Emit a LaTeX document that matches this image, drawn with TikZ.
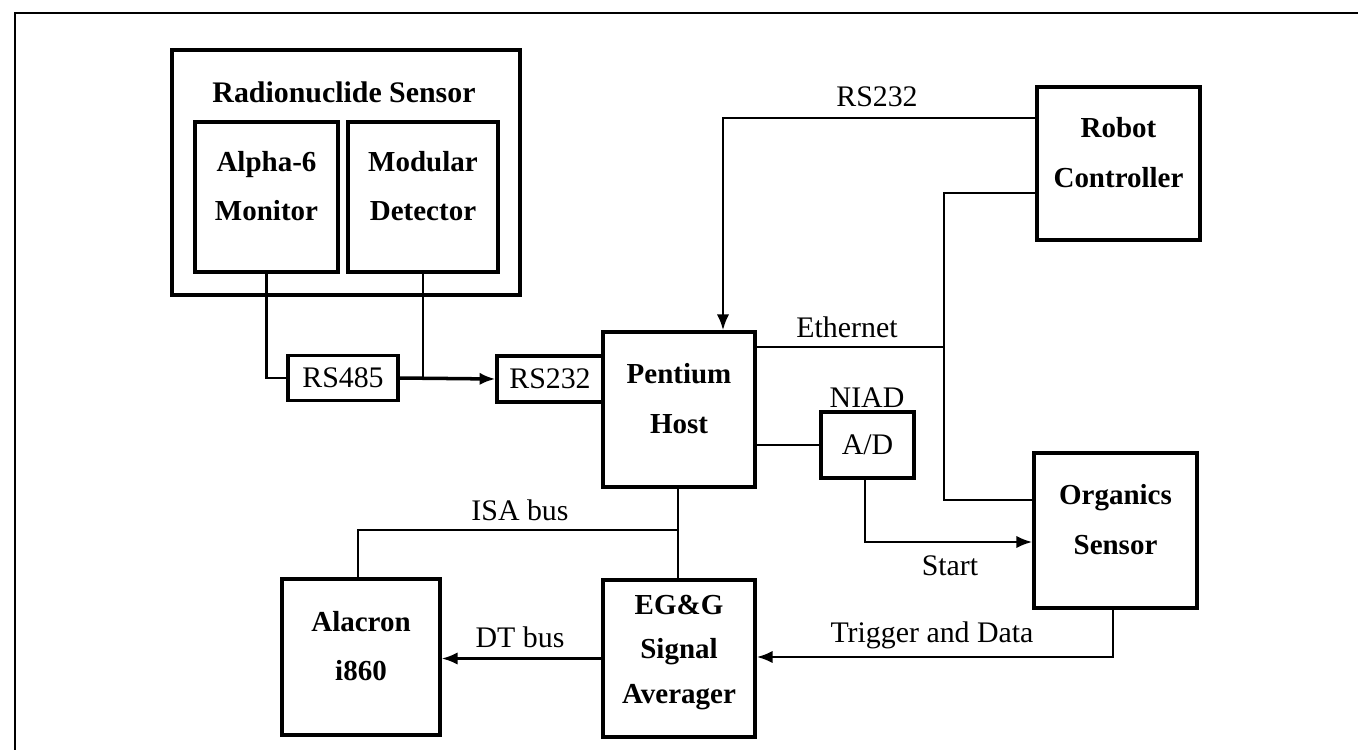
\documentclass[tikz,border=0pt]{standalone}
\usepackage{fontspec}
\setmainfont{Liberation Serif}
\usetikzlibrary{arrows.meta, positioning, calc}

\begin{document}
\begin{tikzpicture}[
    x=0.02cm, y=-0.02cm,
    >={Latex[length=9pt,width=7pt]},
    blk/.style={draw, line width=2pt, inner sep=0pt},
    tag/.style={draw, line width=1.8pt, inner sep=0pt, font=\fontsize{17}{20}\selectfont},
    boxtxt/.style={align=center, yshift=0.22cm, font=\bfseries\fontsize{16.5}{28}\selectfont},
    lbl/.style={inner sep=1pt, font=\fontsize{17}{20}\selectfont},
    wire/.style={line width=1.4pt},
]
    \useasboundingbox (0,0) rectangle (1358,750);
    % page frame (cut at right and bottom)
    \draw[line width=1.5pt] (1358,13) -- (15,13) -- (15,750);

    % radionuclide sensor
    \node[blk, line width=2.6pt, minimum width=6.96cm, minimum height=4.9cm] (rsens) at (346,172.5) {};
    \node[lbl, font=\bfseries\fontsize{17}{20}\selectfont] (rtitle) at (344,92) {Radionuclide Sensor};
    \node[blk, minimum width=2.86cm, minimum height=3cm, label={[boxtxt]center:Alpha-6\\Monitor}] (alpha) at (266.5,197) {};
    \node[blk, minimum width=3cm, minimum height=3cm, label={[boxtxt]center:Modular\\Detector}] (modular) at (423,197) {};

    % serial links
    \node[tag, minimum width=2.2cm, minimum height=0.9cm] (rs485) at (343,378) {RS485};
    \node[tag, minimum width=2.12cm, minimum height=0.92cm] (rs232) at (550,379) {RS232};

    % host and peripherals
    \node[blk, minimum width=3.04cm, minimum height=3.1cm, label={[boxtxt]center:Pentium\\Host}] (pentium) at (679,409.5) {};
    \node[blk, minimum width=3.26cm, minimum height=3.06cm, label={[boxtxt]center:Robot\\Controller}] (robot) at (1118.5,163.5) {};
    \node[tag, minimum width=1.86cm, minimum height=1.32cm] (ad) at (867.5,445) {A/D};
    \node[lbl] (niad) at (867,398) {NIAD};
    \node[blk, minimum width=3.26cm, minimum height=3.1cm, label={[boxtxt]center:Organics\\Sensor}] (organics) at (1115.5,530.5) {};
    \node[blk, minimum width=3.04cm, minimum height=3.14cm, label={[boxtxt, font=\bfseries\fontsize{16.5}{25.5}\selectfont, yshift=-0.1cm]center:EG\&G\\Signal\\Averager}] (egg) at (679,658.5) {};
    \node[blk, minimum width=3.16cm, minimum height=3.12cm, label={[boxtxt]center:Alacron\\i860}] (alacron) at (361,657) {};

    % connectors
    \draw[wire] (alpha.south) |- (rs485.west);
    \draw[wire] (modular.south) -- (modular.south |- rs485.east);
    \draw[line width=2pt, ->] (rs485.east) -- (rs232.west);

    \coordinate (r1) at (723,118);
    \draw[wire, ->] (r1 -| robot.west) -- (r1) -- (r1 |- pentium.north);
    \node[lbl] (rslbl) at (877,97) {RS232};

    \coordinate (e1) at (944,193);
    \coordinate (e2) at (944,500);
    \coordinate (e3) at (944,347);
    \draw[wire] (e1 -| robot.west) -- (e1) -- (e2) -- (e2 -| organics.west);
    \draw[wire] (e3 -| pentium.east) -- (e3);
    \node[lbl] (etlbl) at (847,327) {Ethernet};

    \draw[wire] (ad.west -| pentium.east) -- (ad.west);
    \coordinate (s1) at (865,542);
    \draw[wire, ->] (s1 |- ad.south) -- (s1) -- (s1 -| organics.west);
    \node[lbl] (stlbl) at (950,566) {Start};

    \coordinate (t1) at (1113,657);
    \draw[wire, ->] (t1 |- organics.south) -- (t1) -- (t1 -| egg.east);
    \node[lbl] (trlbl) at (932,635) {Trigger and Data};

    \coordinate (i1) at (678,530);
    \coordinate (i2) at (358,530);
    \draw[wire] (i1 |- pentium.south) -- (i1 |- egg.north);
    \draw[wire] (i1) -- (i2) -- (i2 |- alacron.north);
    \node[lbl] (isalbl) at (520,510) {ISA bus};

    \draw[wire, ->] (egg.west) -- (egg.west -| alacron.east);
    \node[lbl] (dtlbl) at (520,637) {DT bus};
\end{tikzpicture}
\end{document}
